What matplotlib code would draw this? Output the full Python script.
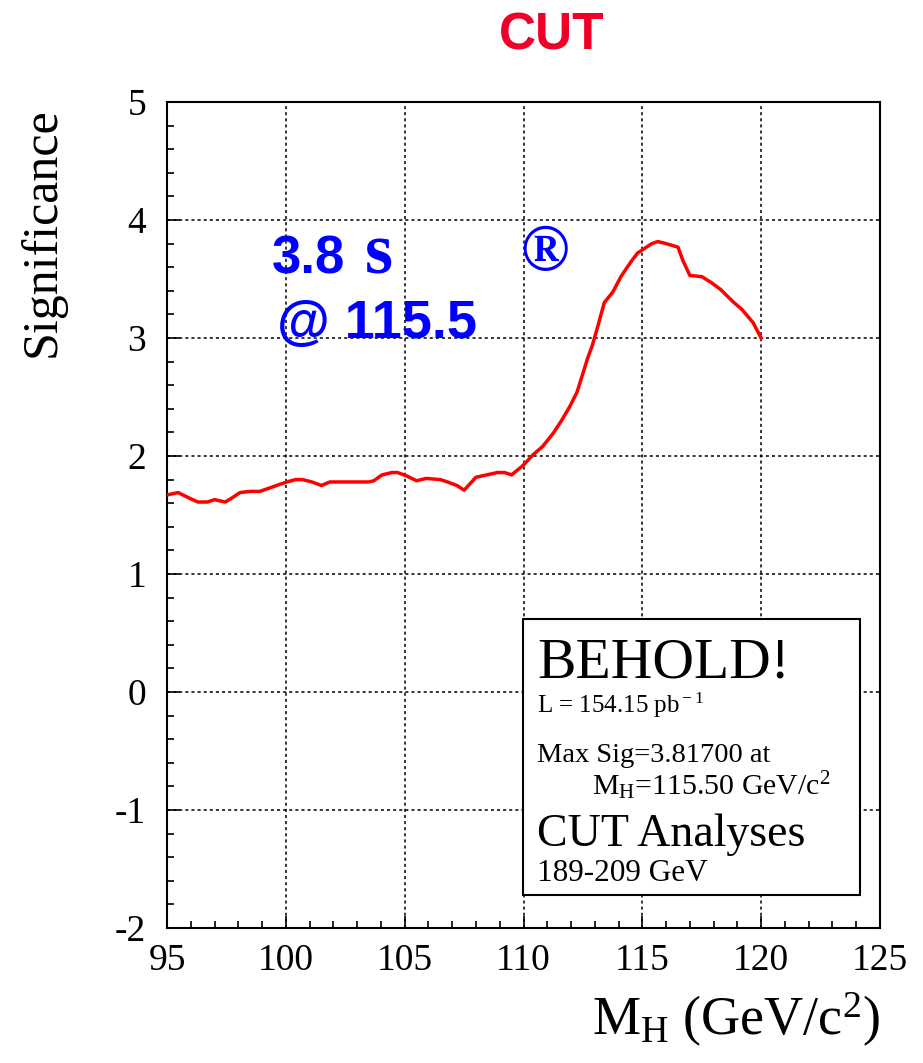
import matplotlib
matplotlib.use('Agg')
import matplotlib.pyplot as plt
from matplotlib.patches import Rectangle
from matplotlib.ticker import MultipleLocator

W, H = 923, 1063
DPI = 100

plt.rcParams['mathtext.fontset'] = 'custom'
plt.rcParams['mathtext.rm'] = 'Liberation Serif'
plt.rcParams['mathtext.it'] = 'Liberation Serif:italic'
plt.rcParams['axes.unicode_minus'] = False

# significance vs Higgs mass
mass = [95.0, 95.47, 95.97, 96.3, 96.7, 97.0, 97.45, 97.7, 98.07, 98.5, 98.9,
        99.33, 99.75, 100.05, 100.4, 100.7, 101.1, 101.5, 101.85, 102.7, 103.5,
        103.7, 104.05, 104.47, 104.7, 105.1, 105.5, 105.9, 106.5, 106.8, 107.2,
        107.5, 108.0, 108.46, 108.9, 109.2, 109.5, 109.98, 110.4, 110.8, 111.24,
        111.6, 111.95, 112.25, 112.5, 112.7, 112.9, 113.1, 113.4, 113.76, 114.1,
        114.5, 114.8, 115.1, 115.4, 115.65, 116.0, 116.5, 116.7, 117.0, 117.5,
        117.9, 118.3, 118.8, 119.2, 119.66, 120.0]
sig = [1.67, 1.69, 1.64, 1.61, 1.61, 1.63, 1.61, 1.64, 1.69, 1.70, 1.70,
       1.73, 1.76, 1.78, 1.80, 1.80, 1.78, 1.75, 1.78, 1.78, 1.78,
       1.79, 1.84, 1.86, 1.86, 1.83, 1.79, 1.81, 1.80, 1.78, 1.75,
       1.71, 1.82, 1.84, 1.86, 1.86, 1.84, 1.92, 2.01, 2.08, 2.19,
       2.30, 2.42, 2.54, 2.70, 2.83, 2.94, 3.08, 3.30, 3.39, 3.52,
       3.64, 3.72, 3.76, 3.80, 3.817, 3.80, 3.77, 3.66, 3.53, 3.52,
       3.47, 3.41, 3.31, 3.24, 3.13, 3.00]

x_ticks = [95, 100, 105, 110, 115, 120, 125]
y_ticks = [-2, -1, 0, 1, 2, 3, 4, 5]

SERIF = 'Liberation Serif'
SANS = 'Liberation Sans'


def fx(px):
    return px / W


def fy(py):
    return 1 - py / H


fig = plt.figure(figsize=(W / DPI, H / DPI), dpi=DPI)
ax = fig.add_axes([fx(167), fy(928), (880 - 167) / W, (928 - 102) / H])

ax.plot(mass, sig, color='#ff0000', lw=2.5, zorder=3)

ax.set_xlim(95, 125)
ax.set_ylim(-2, 5)
ax.set_xticks(x_ticks)
ax.set_yticks(y_ticks)
ax.xaxis.set_minor_locator(MultipleLocator(1))
ax.yaxis.set_minor_locator(MultipleLocator(0.2))
ax.tick_params(which='both', direction='in', top=False, right=False, width=1.2)
ax.tick_params(which='major', length=9, labelsize=27)
ax.tick_params(axis='x', which='major', pad=11)
ax.tick_params(axis='y', which='major', pad=15)
ax.tick_params(which='minor', length=5)
for lab in ax.get_xticklabels() + ax.get_yticklabels():
    lab.set_fontfamily(SERIF)
ax.grid(True, which='major', color='black', lw=1.1, linestyle=(0, (2, 2)))
for s in ax.spines.values():
    s.set_linewidth(1.5)

# axis titles
fig.text(fx(42), fy(232), 'Significance', rotation=90, ha='center', va='center',
         fontsize=36, family=SERIF)
fig.text(fx(880), fy(1035), r'M$_{\rm H}$ (GeV/c$^{2}$)', ha='right', va='baseline',
         fontsize=39, family=SERIF)

# top title
fig.text(fx(552), fy(50), 'CUT', ha='center', va='baseline', fontsize=37,
         fontweight='bold', family=SANS, color='#f00028')

# blue annotation
blue = '#0000ff'
fig.text(fx(272), fy(273), '3.8', ha='left', va='baseline', fontsize=38,
         fontweight='bold', family=SANS, color=blue)
fig.text(fx(365), fy(273), 's', ha='left', va='baseline', fontsize=52,
         fontweight='bold', family=SERIF, color=blue)
fig.text(fx(545), fy(254), '\u00ae', ha='center', va='center', fontsize=47,
         fontweight='bold', family=SERIF, color=blue)
fig.text(fx(277), fy(338), '@ 115.5', ha='left', va='baseline', fontsize=39,
         fontweight='bold', family=SANS, color=blue)

# info box
box = Rectangle((fx(523), fy(895)), (860 - 523) / W, (895 - 619) / H,
                transform=fig.transFigure, facecolor='white', edgecolor='black',
                lw=1.5, zorder=5)
fig.patches.append(box)
fig.text(fx(537), fy(678), 'BEHOLD!', fontsize=41.5, family=SERIF, va='baseline', zorder=6)
fig.text(fx(537), fy(713), r'L = 154.15 pb$^{\rm -1}$', fontsize=18, family=SERIF,
         va='baseline', zorder=6)
fig.text(fx(537), fy(762), 'Max Sig=3.81700 at', fontsize=20.5, family=SERIF,
         va='baseline', zorder=6)
fig.text(fx(592), fy(795), r'M$_{\rm H}$=115.50 GeV/c$^{2}$', fontsize=21.5, family=SERIF,
         va='baseline', zorder=6)
fig.text(fx(537), fy(846), 'CUT Analyses', fontsize=33, family=SERIF, va='baseline',
         zorder=6)
fig.text(fx(537), fy(881), '189-209 GeV', fontsize=22.5, family=SERIF, va='baseline',
         zorder=6)

fig.savefig('out.png', dpi=DPI)
